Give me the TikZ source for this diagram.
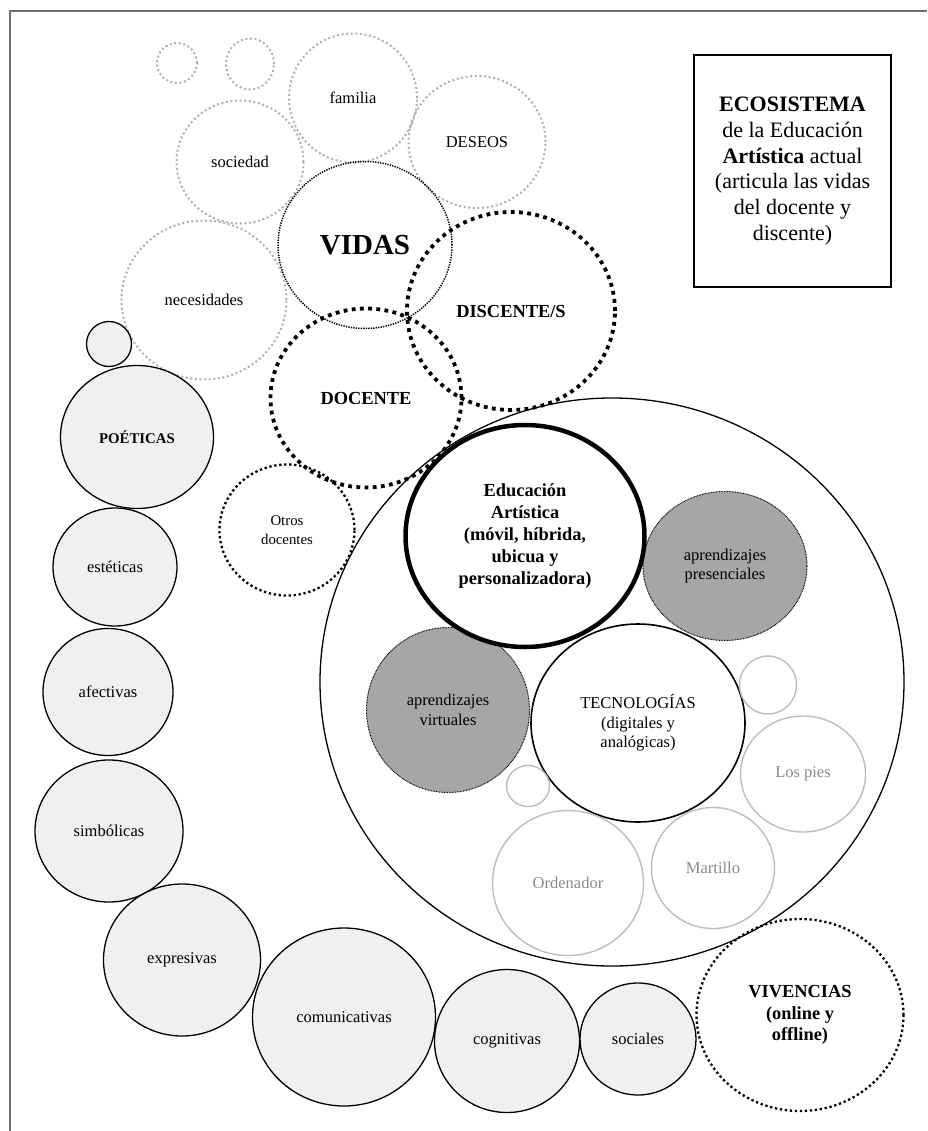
\documentclass[tikz,border=0pt]{standalone}
\usepackage{fontspec}
\setmainfont{Liberation Serif}
\usetikzlibrary{shapes.geometric}
\definecolor{chainfill}{HTML}{F0F0F0}
\definecolor{darkfill}{HTML}{A6A6A6}
\definecolor{lightdot}{HTML}{B0B0B0}
\definecolor{techline}{HTML}{BDBDBD}
\definecolor{techtext}{HTML}{8A8A8A}
\definecolor{framegray}{HTML}{707070}
\tikzset{
  bub/.style={ellipse, inner sep=0pt, align=center},
  sz/.style 2 args={minimum width=#1pt, minimum height=#2pt},
  fnorm/.style={font=\fontsize{16.5}{19.5}\selectfont},
  fsmall/.style={font=\fontsize{14.8}{18.7}\selectfont},
  fbold/.style={font=\fontsize{18.4}{21.8}\selectfont\bfseries},
  lightdotted/.style={bub, fnorm, draw=lightdot, line width=2pt, dash pattern=on 2pt off 2.6pt},
  vidasdotted/.style={bub, draw=black, line width=1.5pt, dash pattern=on 1.3pt off 1.2pt},
  heavydotted/.style={bub, fbold, draw=black, line width=3.8pt, dash pattern=on 3.8pt off 4.4pt},
  meddotted/.style={bub, draw=black, line width=2.3pt, dash pattern=on 2.3pt off 2.7pt},
  chain/.style={bub, fnorm, draw=black, line width=1.3pt, fill=chainfill},
  learn/.style={bub, fnorm, fill=darkfill, draw=black, line width=1pt, dash pattern=on 0.8pt off 0.8pt},
  tool/.style={bub, fnorm, draw=techline, line width=1.4pt, text=techtext},
  infobox/.style={draw=black, line width=1.3pt, align=center, inner sep=0pt,
    font=\fontsize{22}{25.7}\selectfont},
}
\begin{document}
\begin{tikzpicture}[x=1pt, y=-1pt]
\useasboundingbox (0,0) rectangle (927,1131);
\fill[white] (0,0) rectangle (927,1131);

% frame
\coordinate (fb) at (10,1131);
\coordinate (fc) at (10,11);
\coordinate (fr) at (927,11);
\draw[framegray, line width=2pt] (fb) -- (fc) -- (fr);

% big ecosystem circle
\node[bub, draw=black, line width=1.3pt, sz={584}{568}] (big) at (612,682) {};

% top light group
\node[lightdotted, sz={40}{40}] (dotA) at (177,63) {};
\node[lightdotted, sz={48}{51}] (dotB) at (250,64) {};
\node[lightdotted, sz={128}{129}] (familia) at (353,98) {familia};
\node[lightdotted, sz={127}{123}] (sociedad) at (240,162) {sociedad};
\node[lightdotted, sz={137}{132}] (deseos) at (477,142) {DESEOS};
\node[lightdotted, sz={165}{159}] (necesidades) at (204,300) {necesidades};

% lives
\node[vidasdotted, sz={174}{167}, font=\fontsize{29}{32}\selectfont\bfseries] (vidas) at (365,245) {VIDAS};
\node[heavydotted, sz={208}{198}] (discente) at (511,311) {DISCENTE/S};
\node[heavydotted, sz={191}{179}] (docente) at (366,398) {DOCENTE};
\node[meddotted, fsmall, sz={135}{131}] (otros) at (287,530) {Otros\\docentes};

% chain of dimensions
\node[chain, sz={45}{45}] (chainsmall) at (109,344) {};
\node[chain, sz={153}{143}, font=\fontsize{14.8}{18}\selectfont\bfseries] (poeticas) at (137,437) {POÉTICAS};
\node[chain, sz={124}{118}] (esteticas) at (115,567) {estéticas};
\node[chain, sz={130}{127}] (afectivas) at (108,692) {afectivas};
\node[chain, sz={148}{142}] (simbolicas) at (109,831) {simbólicas};
\node[chain, sz={157}{152}] (expresivas) at (182,960) {expresivas};
\node[chain, sz={183}{178}] (comunicativas) at (344,1017) {comunicativas};
\node[chain, sz={145}{143}] (cognitivas) at (507,1041) {cognitivas};
\node[chain, sz={116}{112}] (sociales) at (638,1039) {sociales};
\node[meddotted, fbold, sz={207}{192}] (vivencias) at (800,1015) {VIVENCIAS\\(online y\\offline)};

% inside the ecosystem
\node[learn, sz={164}{149}] (presenciales) at (725,566) {aprendizajes\\presenciales};
\node[learn, sz={163}{165}] (virtuales) at (448,710) {aprendizajes\\virtuales};
\node[bub, fbold, draw=black, line width=4.5pt, sz={239}{222}, fill=white] (educacion) at (525,536)
  {Educación\\Artística\\(móvil, híbrida,\\ubicua y\\personalizadora)};
\node[bub, fnorm, draw=black, line width=1.6pt, sz={214}{198}] (tecnologias) at (638,723)
  {TECNOLOGÍAS\\(digitales y\\analógicas)};
\node[tool, sz={57}{58}] (toolR) at (768,685) {};
\node[tool, sz={125}{116}] (lospies) at (803,774) {Los pies};
\node[tool, sz={43}{41}] (toolL) at (528,786) {};
\node[tool, sz={151}{145}] (ordenador) at (568,883) {Ordenador};
\node[tool, sz={123}{121}] (martillo) at (713,868) {Martillo};

% info box
\node[infobox, minimum width=197pt, minimum height=232pt] (info) at (792.5,171)
  {\textbf{ECOSISTEMA}\\de la Educación\\\textbf{Artística} actual\\(articula las vidas\\del docente y\\discente)};
\end{tikzpicture}
\end{document}
